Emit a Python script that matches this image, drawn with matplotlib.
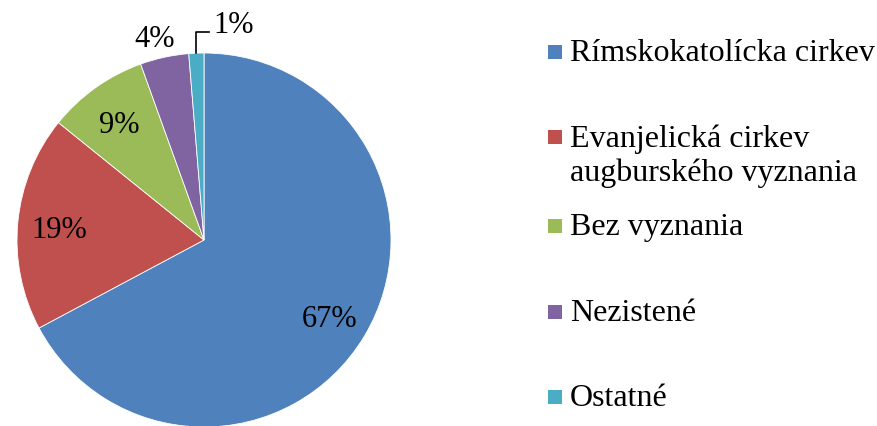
import numpy as np
import matplotlib
matplotlib.use("Agg")
from matplotlib import pyplot as plt
from matplotlib.patches import Rectangle

labels = ["Rímskokatolícka cirkev", "Evanjelická cirkev\naugburského vyznania",
          "Bez vyznania", "Nezistené", "Ostatné"]
values = [67.2, 18.6, 8.7, 4.2, 1.3]
colors = ["#4F81BD", "#C0504D", "#9BBB59", "#8064A2", "#4BACC6"]

plt.rcParams['font.family'] = ['Liberation Serif', 'DejaVu Serif']
W, H = 878, 427
fig = plt.figure(figsize=(W/100, H/100), dpi=100)

# pie axes: centre (204,241) px, radius 187 px
cx, cy, r = 204, 241, 187
ax = fig.add_axes([(cx-r)/W, (H-cy-r)/H, 2*r/W, 2*r/H])
wedges, texts, autotexts = ax.pie(values, colors=colors, startangle=90, counterclock=False,
                                  autopct='%.0f%%', pctdistance=0.78,
                                  wedgeprops=dict(edgecolor='white', linewidth=0.6),
                                  textprops=dict(fontsize=22, color='black'))
for t in autotexts:
    t.set_va('center_baseline')
ax.set_xlim(-1, 1)
ax.set_ylim(-1, 1)
ax.set_aspect('auto')
ax.axis('off')

# small slices: labels outside
w = wedges[3]
a = np.deg2rad((w.theta1 + w.theta2)/2)
autotexts[3].set_position((1.1*np.cos(a) - 0.03, 1.12*np.sin(a)))

w = wedges[4]
a = np.deg2rad((w.theta1 + w.theta2)/2)
x0, y0 = np.cos(a), np.sin(a)
ax.plot([x0, x0, x0+0.07], [y0, 1.11, 1.11], color='black', lw=1.2, clip_on=False)
autotexts[4].set_position((x0+0.09, 1.17))
autotexts[4].set_ha('left')

# legend drawn by hand to mimic Excel spacing
rows_y = [53, 138, 227, 313, 398]
for lab, col, yy in zip(labels, colors, rows_y):
    fig.patches.append(Rectangle((548/W, (H-yy-7)/H), 14/W, 14/H, transform=fig.transFigure,
                                 facecolor=col, edgecolor='none'))
    fig.text(570/W, (H-yy+14)/H, lab, fontsize=23, va='top', ha='left', linespacing=1.22)

fig.savefig("out.png", dpi=100)
